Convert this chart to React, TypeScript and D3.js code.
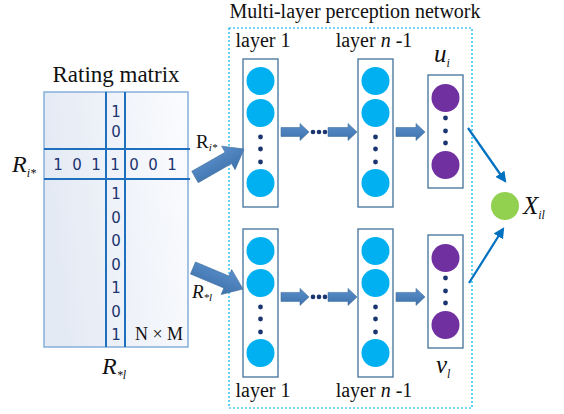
import * as d3 from 'd3';

// Matrix contents
const rowValues = ['1', '0', '1', '1', '0', '0', '1'];
const colTopValues = ['1', '0'];
const colBottomValues = ['1', '0', '0', '0', '1', '0', '1'];

// Network branches: top (user i) and bottom (item l)
const branches = ['top', 'bottom'];
const layerLabels = ['layer 1', 'layer n-1'];

const SERIF = '"Liberation Serif", "Times New Roman", serif';
const SANS = '"DejaVu Sans", Verdana, sans-serif';
const NAVY = '#1b3570';
const CYAN = '#00b0f0';
const PURPLE = '#7030a0';

// block arrow (fat) from tail to tip
function blockArrow(x1: number, y1: number, x2: number, y2: number, sw: number, hw: number, hl: number) {
  const len = Math.hypot(x2 - x1, y2 - y1);
  const ang = (Math.atan2(y2 - y1, x2 - x1) * 180) / Math.PI;
  const p = d3.path();
  p.moveTo(0, -sw / 2);
  p.lineTo(len - hl, -sw / 2);
  p.lineTo(len - hl, -hw / 2);
  p.lineTo(len, 0);
  p.lineTo(len - hl, hw / 2);
  p.lineTo(len - hl, sw / 2);
  p.lineTo(0, sw / 2);
  p.closePath();
  return (
    <path
      d={p.toString()}
      transform={`translate(${x1},${y1}) rotate(${ang})`}
      fill="url(#arrowGrad)"
      stroke="#41719c"
      strokeWidth={0.6}
    />
  );
}

function Layer({ x, y, h, circles, dots, color }: { x: number; y: number; h: number; circles: number[]; dots: number[]; color: string }) {
  return (
    <g>
      <rect x={x} y={y} width={35} height={h} fill="#fff" stroke="#41719c" strokeWidth={1.3} />
      {circles.map((cy, i) => (
        <circle key={i} cx={x + 17.5} cy={y + cy} r={14} fill={color} />
      ))}
      {dots.map((cy, i) => (
        <circle key={'d' + i} cx={x + 17.5} cy={y + cy} r={2.4} fill={NAVY} />
      ))}
    </g>
  );
}

export default function App() {
  // matrix geometry
  const mx0 = 44, mx1 = 188, my0 = 92, my1 = 347;
  const bx0 = 106, bx1 = 125; // vertical band
  const by0 = 149, by1 = 179; // horizontal band

  const rowX = d3.scalePoint<number>().domain(d3.range(rowValues.length)).range([58, 172]);
  const colTopY = d3.scalePoint<number>().domain(d3.range(colTopValues.length)).range([112, 132]);
  const colBotY = d3.scalePoint<number>().domain(d3.range(colBottomValues.length)).range([194, 335]);

  const branchY = d3.scaleOrdinal<string, number>().domain(branches).range([0, 170]);
  const layerX = d3.scaleOrdinal<string, number>().domain(layerLabels).range([243, 358]);

  return (
    <div style={{ position: 'absolute', left: 0, top: 0 }}>
      <svg width={564} height={414} style={{ display: 'block', background: '#fff' }}>
        <defs>
          <linearGradient id="matGrad" x1="0" y1="0.2" x2="1" y2="0">
            <stop offset="0" stopColor="#e4eaf4" />
            <stop offset="1" stopColor="#fbfcfe" />
          </linearGradient>
          <linearGradient id="arrowGrad" x1="0" y1="0" x2="0" y2="1">
            <stop offset="0" stopColor="#5a8fcc" />
            <stop offset="1" stopColor="#3f72ab" />
          </linearGradient>
          <marker id="thinHead" viewBox="0 0 10 10" refX="8" refY="5" markerWidth="5" markerHeight="5" orient="auto">
            <path d="M0,0 L10,5 L0,10 z" fill="#0070c0" />
          </marker>
        </defs>

        {/* Rating matrix */}
        <text x={116} y={82} textAnchor="middle" fontFamily={SERIF} fontSize={23} fill="#111">Rating matrix</text>
        <rect x={mx0} y={my0} width={mx1 - mx0} height={my1 - my0} fill="url(#matGrad)" stroke="#86aedb" strokeWidth={1.5} />
        <line x1={bx0} x2={bx0} y1={my0} y2={my1} stroke="#1f6fbf" strokeWidth={2} />
        <line x1={bx1} x2={bx1} y1={my0} y2={my1} stroke="#1f6fbf" strokeWidth={2} />
        <line x1={mx0} x2={mx1 + 2} y1={by0} y2={by0} stroke="#1f6fbf" strokeWidth={2} />
        <line x1={mx0} x2={mx1 + 2} y1={by1} y2={by1} stroke="#1f6fbf" strokeWidth={2} />

        {rowValues.map((v, i) => (
          <text key={'r' + i} x={rowX(i)} y={165} dy="0.35em" textAnchor="middle" fontFamily={SANS} fontSize={15} fill={NAVY}>{v}</text>
        ))}
        {colTopValues.map((v, i) => (
          <text key={'ct' + i} x={116} y={colTopY(i)} dy="0.35em" textAnchor="middle" fontFamily={SANS} fontSize={15} fill={NAVY}>{v}</text>
        ))}
        {colBottomValues.map((v, i) => (
          <text key={'cb' + i} x={116} y={colBotY(i)} dy="0.35em" textAnchor="middle" fontFamily={SANS} fontSize={15} fill={NAVY}>{v}</text>
        ))}
        <text x={159} y={340} textAnchor="middle" fontFamily={SERIF} fontSize={18} fill="#111">N × M</text>

        {/* matrix labels */}
        <text x={12} y={172} fontFamily={SERIF} fontStyle="italic" fontSize={24} fill="#111">R
          <tspan fontSize={12} dy={5}>i*</tspan>
        </text>
        <text x={102} y={374} fontFamily={SERIF} fontStyle="italic" fontSize={24} fill="#111">R
          <tspan fontSize={12} dy={5}>*l</tspan>
        </text>

        {/* network box */}
        <rect x={229} y={28} width={243} height={380} fill="none" stroke={CYAN} strokeWidth={1.2} strokeDasharray="2,2" />
        <text x={355} y={18} textAnchor="middle" fontFamily={SERIF} fontSize={20} fill="#111">Multi-layer perception network</text>

        {branches.map((b) => {
          const oy = branchY(b);
          const arrowY = 132 + oy * 0.97;
          return (
            <g key={b}>
              {layerLabels.map((l) => (
                <Layer key={l} x={layerX(l)} y={59 + oy} h={148} circles={[22, 54, 124]} dots={[78, 90, 103]} color="#00b0f0" />
              ))}
              <Layer x={428} y={b === 'top' ? 75 : 235} h={113} circles={[23, 90]} dots={[43, 56, 68]} color={PURPLE} />
              {blockArrow(281, arrowY, 309, arrowY, 9, 17, 9)}
              {[313, 319, 325].map((cx) => (
                <circle key={cx} cx={cx} cy={arrowY} r={2.3} fill={NAVY} />
              ))}
              {blockArrow(328, arrowY, 357, arrowY, 9, 17, 9)}
              {blockArrow(396, arrowY, 425, arrowY, 9, 17, 9)}
            </g>
          );
        })}

        {/* layer labels */}
        {[47, 397].map((ty) => (
          <g key={ty}>
            <text x={263} y={ty} textAnchor="middle" fontFamily={SERIF} fontSize={20} fill="#111">layer 1</text>
            <text x={374} y={ty} textAnchor="middle" fontFamily={SERIF} fontSize={20} fill="#111">layer <tspan fontStyle="italic">n</tspan> -1</text>
          </g>
        ))}

        {/* input arrows */}
        {blockArrow(195, 177, 244, 149, 13, 27, 18)}
        {blockArrow(193, 268, 243, 289, 13, 27, 18)}
        <text x={196} y={148} fontFamily={SERIF} fontSize={19} fill="#111">R
          <tspan fontSize={11} fontStyle="italic" dy={3}>i*</tspan>
        </text>
        <text x={192} y={298} fontFamily={SERIF} fontStyle="italic" fontSize={19} fill="#111">R
          <tspan fontSize={11} dy={3}>*l</tspan>
        </text>

        {/* output vectors */}
        <text x={434} y={62} fontFamily={SERIF} fontStyle="italic" fontSize={25} fill="#111">u
          <tspan fontSize={12} dy={5}>i</tspan>
        </text>
        <text x={436} y={373} fontFamily={SERIF} fontStyle="italic" fontSize={25} fill="#111">v
          <tspan fontSize={12} dy={5}>l</tspan>
        </text>

        <line x1={468} y1={128} x2={505} y2={181} stroke="#0070c0" strokeWidth={2.2} markerEnd="url(#thinHead)" />
        <line x1={469} y1={283} x2={503} y2={229} stroke="#0070c0" strokeWidth={2.2} markerEnd="url(#thinHead)" />

        <circle cx={505} cy={206} r={14} fill="#92d050" />
        <text x={523} y={214} fontFamily={SERIF} fontStyle="italic" fontSize={25} fill="#111">X
          <tspan fontSize={12} dy={5}>il</tspan>
        </text>
      </svg>
    </div>
  );
}
